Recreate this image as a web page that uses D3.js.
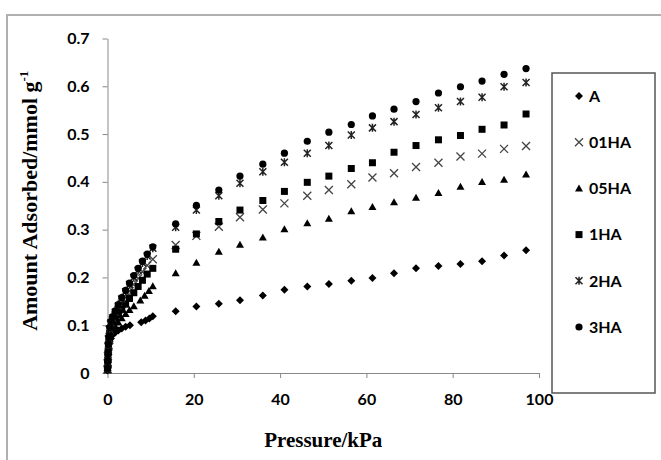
<!DOCTYPE html>
<html>
<head>
<meta charset="utf-8">
<script src="https://cdnjs.cloudflare.com/ajax/libs/d3/7.8.5/d3.min.js"></script>
<style>
  body { margin: 0; background: #fff; }
  .tick text { font-family: Lato, "Liberation Sans", sans-serif; font-weight: bold; font-size: 16px; fill: #000; }
  .axis path, .axis line { stroke: #888; stroke-width: 1; }
  .axis-title { font-family: "Liberation Serif", "Times New Roman", serif; font-weight: bold; fill: #000; }
  .legend-text { font-family: Lato, "Liberation Sans", sans-serif; font-weight: bold; font-size: 16px; fill: #000; }
</style>
</head>
<body>
<div id="chart"></div>
<script>
// series names in drawing order
var seriesNames = ["A", "01HA", "05HA", "1HA", "2HA", "3HA"];

// pressures (kPa)
var pressureLowHA = [0.02, 0.05, 0.1, 0.2, 0.3, 0.5, 0.8, 1.2, 1.8, 2.5, 3.3, 4.2, 5.1, 6.1, 7.1, 8.1, 9.2];
var pressureLow05 = [0.02, 0.05, 0.1, 0.2, 0.3, 0.5, 0.8, 1.2, 1.8, 2.5, 3.3, 4.2, 5.1, 6.1, 7.6, 8.6, 9.6];
var pressureLowA = [0.02, 0.05, 0.1, 0.2, 0.3, 0.5, 0.8, 1.2, 1.8, 2.5, 3.3, 4.2, 5.2, 7.8, 8.8, 9.7];
var pressureHigh = [10.5, 15.8, 20.6, 25.8, 30.7, 36.0, 41.0, 46.3, 51.3, 56.5, 61.4, 66.4, 71.5, 76.7, 81.8, 86.8, 91.9, 97.0];

// amount adsorbed (mmol/g), low pressure part then high pressure part
var valuesA = [0.005, 0.013, 0.023, 0.038, 0.05, 0.062, 0.072, 0.08, 0.085, 0.089, 0.093, 0.097, 0.1, 0.106, 0.11, 0.114,
    0.119, 0.129, 0.139, 0.145, 0.152, 0.162, 0.174, 0.181, 0.186, 0.193, 0.199, 0.209, 0.219, 0.224, 0.228, 0.234, 0.246, 0.257];
var values01HA = [0.008, 0.02, 0.035, 0.055, 0.07, 0.09, 0.102, 0.11, 0.12, 0.132, 0.145, 0.158, 0.171, 0.185, 0.198, 0.212, 0.225,
    0.238, 0.268, 0.287, 0.306, 0.326, 0.342, 0.355, 0.371, 0.383, 0.395, 0.409, 0.418, 0.431, 0.440, 0.453, 0.459, 0.469, 0.475];
var values05HA = [0.006, 0.016, 0.028, 0.045, 0.058, 0.072, 0.082, 0.09, 0.098, 0.106, 0.115, 0.124, 0.132, 0.14, 0.152, 0.162, 0.172,
    0.182, 0.209, 0.231, 0.254, 0.269, 0.284, 0.301, 0.314, 0.323, 0.339, 0.348, 0.358, 0.367, 0.377, 0.390, 0.400, 0.405, 0.416];
var values1HA = [0.007, 0.018, 0.032, 0.05, 0.065, 0.083, 0.095, 0.105, 0.113, 0.122, 0.133, 0.144, 0.156, 0.168, 0.181, 0.194, 0.207,
    0.219, 0.259, 0.291, 0.317, 0.341, 0.361, 0.380, 0.399, 0.412, 0.428, 0.440, 0.462, 0.476, 0.488, 0.497, 0.510, 0.519, 0.542];
var values2HA = [0.008, 0.022, 0.038, 0.058, 0.072, 0.092, 0.105, 0.115, 0.127, 0.14, 0.155, 0.17, 0.185, 0.2, 0.215, 0.23, 0.245,
    0.261, 0.305, 0.341, 0.371, 0.397, 0.421, 0.441, 0.460, 0.476, 0.498, 0.513, 0.526, 0.541, 0.555, 0.568, 0.577, 0.599, 0.608];
var values3HA = [0.01, 0.025, 0.04, 0.06, 0.075, 0.095, 0.108, 0.118, 0.13, 0.143, 0.158, 0.173, 0.188, 0.204, 0.219, 0.234, 0.249,
    0.264, 0.312, 0.351, 0.383, 0.412, 0.437, 0.460, 0.485, 0.504, 0.520, 0.538, 0.552, 0.568, 0.586, 0.599, 0.611, 0.625, 0.637];

// tick labels
var xTicks = [0, 20, 40, 60, 80, 100];
var yTicks = [0, 0.1, 0.2, 0.3, 0.4, 0.5, 0.6, 0.7];

var seriesPressures = {
    "A": pressureLowA.concat(pressureHigh),
    "01HA": pressureLowHA.concat(pressureHigh),
    "05HA": pressureLow05.concat(pressureHigh),
    "1HA": pressureLowHA.concat(pressureHigh),
    "2HA": pressureLowHA.concat(pressureHigh),
    "3HA": pressureLowHA.concat(pressureHigh)
};
var seriesValues = { "A": valuesA, "01HA": values01HA, "05HA": values05HA, "1HA": values1HA, "2HA": values2HA, "3HA": values3HA };

var width = 661, height = 460;

var svg = d3.select("#chart").append("svg")
    .attr("width", width)
    .attr("height", height);

// chart area frame (runs off the right/bottom edges)
svg.append("rect")
    .attr("x", 7).attr("y", 15)
    .attr("width", 720).attr("height", 520)
    .attr("fill", "none")
    .attr("stroke", "#b0b0b0")
    .attr("stroke-width", 2);

var x = d3.scaleLinear().domain([0, 100]).range([107.5, 539]);
var y = d3.scaleLinear().domain([0, 0.7]).range([373, 38.5]);

// axes
svg.append("g")
    .attr("class", "axis")
    .attr("transform", "translate(0," + y(0) + ")")
    .call(d3.axisBottom(x).tickValues(xTicks).tickSize(5).tickSizeOuter(0).tickPadding(16));

svg.append("g")
    .attr("class", "axis")
    .attr("transform", "translate(" + x(0) + ",0)")
    .call(d3.axisLeft(y).tickValues(yTicks).tickSize(5).tickSizeOuter(0).tickPadding(13)
        .tickFormat(d => d === 0 ? "0" : d3.format(".1f")(d)));

// axis titles
svg.append("text")
    .attr("class", "axis-title")
    .attr("x", (x(0) + x(100)) / 2)
    .attr("y", 447)
    .attr("text-anchor", "middle")
    .attr("font-size", 21)
    .text("Pressure/kPa");

var yTitle = svg.append("text")
    .attr("class", "axis-title")
    .attr("transform", "translate(37," + (y(0.35) - 5) + ") rotate(-90)")
    .attr("text-anchor", "middle")
    .attr("font-size", 22);
yTitle.append("tspan").text("Amount Adsorbed/mmol g");
yTitle.append("tspan").attr("font-size", 13).attr("dy", -9).text("-1");

// marker shapes
function markerPath(name) {
    var p = d3.path();
    if (name === "A") {
        p.moveTo(0, -4); p.lineTo(4, 0); p.lineTo(0, 4); p.lineTo(-4, 0); p.closePath();
    } else if (name === "05HA") {
        p.moveTo(0, -3.8); p.lineTo(4, 3.2); p.lineTo(-4, 3.2); p.closePath();
    } else if (name === "1HA") {
        p.rect(-3.5, -3.5, 7, 7);
    } else if (name === "3HA") {
        p.arc(0, 0, 3.6, 0, 2 * Math.PI);
    } else if (name === "01HA") {
        p.moveTo(-4, -4); p.lineTo(4, 4); p.moveTo(4, -4); p.lineTo(-4, 4);
    } else {
        p.moveTo(-3.5, -3.5); p.lineTo(3.5, 3.5); p.moveTo(3.5, -3.5); p.lineTo(-3.5, 3.5);
        p.moveTo(0, -4); p.lineTo(0, 4);
    }
    return p.toString();
}

function styleMarker(sel, name) {
    var stroked = (name === "01HA" || name === "2HA");
    sel.attr("d", markerPath(name))
        .attr("fill", stroked ? "none" : "#000")
        .attr("stroke", stroked ? (name === "01HA" ? "#444" : "#222") : "none")
        .attr("stroke-width", stroked ? (name === "2HA" ? 1.5 : 1.3) : 0);
}

// points
seriesNames.forEach(function(name) {
    var data = seriesPressures[name].map((p, i) => [p, seriesValues[name][i]]);
    svg.append("g")
        .attr("class", "series")
        .selectAll("path")
        .data(data)
        .enter()
        .append("path")
        .attr("transform", d => "translate(" + x(d[0]) + "," + y(d[1]) + ")")
        .call(styleMarker, name);
});

// legend
var legend = svg.append("g").attr("class", "legend");
legend.append("rect")
    .attr("x", 552).attr("y", 73)
    .attr("width", 103).attr("height", 320)
    .attr("fill", "#fff")
    .attr("stroke", "#555")
    .attr("stroke-width", 1.5);

var legendY = d3.scalePoint().domain(seriesNames).range([96, 327]);

var items = legend.selectAll(".legend-item")
    .data(seriesNames)
    .enter()
    .append("g")
    .attr("class", "legend-item")
    .attr("transform", d => "translate(579," + legendY(d) + ")");

items.append("path").each(function(d) { d3.select(this).call(styleMarker, d); });

items.append("text")
    .attr("class", "legend-text")
    .attr("x", 10)
    .attr("dy", "0.36em")
    .text(d => d);
</script>
</body>
</html>
